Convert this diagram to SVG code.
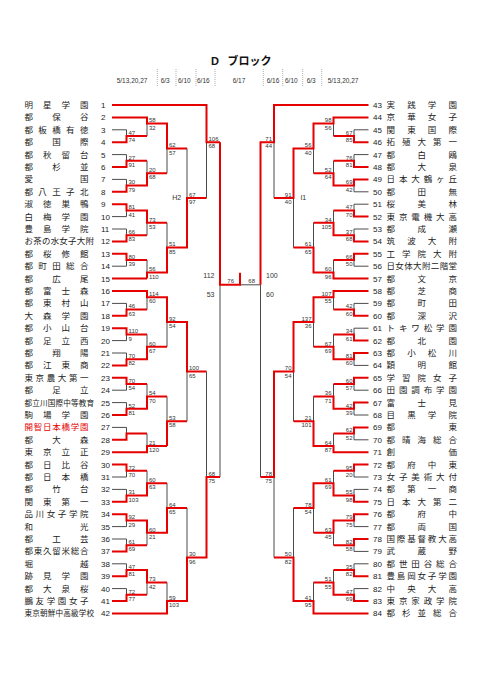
<svg xmlns="http://www.w3.org/2000/svg" width="481" height="680" viewBox="0 0 481 680">
<style>
.g{stroke:#4a4a4a;stroke-width:1;fill:none}
.r{stroke:#e60000;stroke-width:2;fill:none}
.sep{stroke:#9a9a9a;stroke-width:0.8;stroke-dasharray:1,1}
.nm{font-family:"Liberation Sans","Noto Sans CJK JP",sans-serif;font-size:8.5px;fill:#222}
.nm9{font-size:7.6px}
.no{font-family:"Liberation Sans",Arial,sans-serif;font-size:8px;fill:#222}
.sc{font-family:"Liberation Sans",Arial,sans-serif;font-size:6px;fill:#333}
.e{text-anchor:end}
.dt{font-family:"Liberation Sans",Arial,sans-serif;font-size:6.5px;fill:#333}
.lb{font-family:"Liberation Sans",Arial,sans-serif;font-size:7px;fill:#333}
</style>
<rect width="481" height="680" fill="#fff"/>
<g id="header">
<text x="211" y="65" style="font-family:'Liberation Sans','Noto Sans CJK JP',sans-serif;font-size:11px;font-weight:bold;fill:#111">D<tspan x="227.5">ブロック</tspan></text>
<text class="dt" x="116.7" y="83.3">5/13,20,27</text>
<text class="dt" x="160.7" y="83.3">6/3</text>
<text class="dt" x="178" y="83.3">6/10</text>
<text class="dt" x="197" y="83.3">6/16</text>
<text class="dt" x="232.7" y="83.3">6/17</text>
<text class="dt" x="266.7" y="83.3">6/16</text>
<text class="dt" x="285" y="83.3">6/10</text>
<text class="dt" x="306.7" y="83.3">6/3</text>
<text class="dt" x="327.7" y="83.3">5/13,20,27</text>
<path class="sep" d="M157.3 69V87M176 69V87M196 69V87M215 69V87M263.3 69V87M282.7 69V87M302.7 69V87M321.7 69V87"/>
</g>
<g id="connectors">
<path class="g" d="M112 129.8H126.5V136M112 154.6H126.5V160.8M112 179.4H126.5V185.6M112 216.6H126.5V210.4M112 229H126.5V235.2M112 266.2H126.5V260M112 303.4H126.5V309.6M112 340.6H126.5V334.4M112 353H126.5V359.2M112 390.2H126.5V384M112 402.6H126.5V408.8M112 427.4H126.5V433.6M112 477H126.5V470.8M112 489.4H126.5V495.6M112 526.6H126.5V520.4M112 539H126.5V545.2M112 563.8H126.5V570M112 588.6H126.5V594.8
M147 123.6V136M147 160.8V173.2M147 222.8V235.2M147 260V272.4M147 297.2V309.6M147 334.4V346.8M147 384V396.4M147 433.6V446M147 470.8V483.2M147 532.8V545.2M147 582.4V594.8
M167 148.4V173.2M167 222.8V247.6M167 322V346.8M167 396.4V421.2M167 483.2V508M167 582.4V601
M187 148.4V198M187 371.6V421.2M187 508V557.6
M206.5 142.2V198M206.5 371.6V477M220 284.8V477"/>
<path class="g" d="M368.5 129.8H354V136M368.5 154.6H354V160.8M368.5 191.8H354V185.6M368.5 204.2H354V210.4M368.5 229H354V235.2M368.5 266.2H354V260M368.5 303.4H354V309.6M368.5 328.2H354V334.4M368.5 365.4H354V359.2M368.5 390.2H354V384M368.5 415H354V408.8M368.5 439.8H354V433.6M368.5 477H354V470.8M368.5 489.4H354V495.6M368.5 526.6H354V520.4M368.5 551.4H354V545.2M368.5 563.8H354V570M368.5 588.6H354V594.8
M333.5 123.6V136M333.5 160.8V173.2M333.5 210.4V222.8M333.5 260V272.4M333.5 297.2V309.6M333.5 334.4V346.8M333.5 384V396.4M333.5 433.6V446M333.5 470.8V483.2M333.5 532.8V545.2M333.5 570V582.4
M313.5 148.4V173.2M313.5 222.8V247.6M313.5 322V346.8M313.5 396.4V421.2M313.5 508V532.8M313.5 582.4V601
M293.5 198V247.6M293.5 371.6V421.2M293.5 508V557.6
M274 142.2V198M274 477V557.6M260.5 284.8V477M260.5 284.8H240"/>
<path class="r" d="M112 105H206.5V142.2H220M112 117.4H147V123.6H167V148.4H187M112 278.6H147M112 291H147V297.2H167V322H187V371.6H206.5M112 452.2H147V446H167M112 613.4H167V601H187V557.6H206.5V477H220
M112 142.2H126.5V136H147M112 167H126.5V160.8H147M112 191.8H126.5V185.6H147V173.2H167M112 204.2H126.5V210.4H147V222.8H167M112 241.4H126.5V235.2H147M112 253.8H126.5V260H147M147 278.6V272.4H167V247.6H187V198H206.5
M112 315.8H126.5V309.6H147M112 328.2H126.5V334.4H147M112 365.4H126.5V359.2H147V346.8H167M112 377.8H126.5V384H147M112 415H126.5V408.8H147V396.4H167M112 439.8H126.5V433.6H147M167 446V421.2H187
M112 464.6H126.5V470.8H147M112 501.8H126.5V495.6H147V483.2H167M112 514.2H126.5V520.4H147V532.8H167V508H187M112 551.4H126.5V545.2H147M112 576.2H126.5V570H147V582.4H167M112 601H126.5V594.8H147
M220 142.2V284.8H240V272.7"/>
<path class="r" d="M368.5 105H274V142.2H260.5V284.8M368.5 117.4H333.5V123.6H313.5V148.4H293.5V198H274M368.5 278.6H333.5V272.4H313.5V247.6H293.5M368.5 291H333.5V297.2H313.5V322H293.5V371.6H274V477H260.5M368.5 452.2H333.5V446H313.5V421.2H293.5M368.5 613.4H313.5V601H293.5V557.6H274
M368.5 142.2H354V136H333.5M368.5 167H354V160.8H333.5M368.5 179.4H354V185.6H333.5V173.2H313.5M368.5 216.6H354V210.4H333.5M368.5 241.4H354V235.2H333.5V222.8H313.5M368.5 253.8H354V260H333.5
M368.5 315.8H354V309.6H333.5M368.5 340.6H354V334.4H333.5M368.5 353H354V359.2H333.5V346.8H313.5M368.5 377.8H354V384H333.5M368.5 402.6H354V408.8H333.5V396.4H313.5M368.5 427.4H354V433.6H333.5
M368.5 464.6H354V470.8H333.5M368.5 501.8H354V495.6H333.5V483.2H313.5V508H293.5M368.5 514.2H354V520.4H333.5V532.8H313.5M368.5 539H354V545.2H333.5M368.5 576.2H354V570H333.5M368.5 601H354V594.8H333.5V582.4H313.5"/>
</g>
<g id="scores" class="sc">
<text x="128.5" y="134.7">47<tspan x="128.5" y="142.2">74</tspan></text>
<text x="128.5" y="159.5">27<tspan x="128.5" y="167">91</tspan></text>
<text x="128.5" y="184.3">30<tspan x="128.5" y="191.8">79</tspan></text>
<text x="128.5" y="209.1">81<tspan x="128.5" y="216.6">41</tspan></text>
<text x="128.5" y="233.9">66<tspan x="128.5" y="241.4">83</tspan></text>
<text x="128.5" y="258.7">80<tspan x="128.5" y="266.2">39</tspan></text>
<text x="128.5" y="308.3">46<tspan x="128.5" y="315.8">63</tspan></text>
<text x="128.5" y="333.1">110<tspan x="128.5" y="340.6">9</tspan></text>
<text x="128.5" y="357.9">70<tspan x="128.5" y="365.4">82</tspan></text>
<text x="128.5" y="382.7">70<tspan x="128.5" y="390.2">54</tspan></text>
<text x="128.5" y="407.5">52<tspan x="128.5" y="415">81</tspan></text>
<text x="128.5" y="469.5">72<tspan x="128.5" y="477">70</tspan></text>
<text x="128.5" y="494.3">31<tspan x="128.5" y="501.8">103</tspan></text>
<text x="128.5" y="519.1">92<tspan x="128.5" y="526.6">29</tspan></text>
<text x="128.5" y="543.9">61<tspan x="128.5" y="551.4">69</tspan></text>
<text x="128.5" y="568.7">47<tspan x="128.5" y="576.2">81</tspan></text>
<text x="128.5" y="593.5">72<tspan x="128.5" y="601">77</tspan></text>
<text x="149" y="122.3">58<tspan x="149" y="129.8">32</tspan></text>
<text x="149" y="171.9">20<tspan x="149" y="179.4">68</tspan></text>
<text x="149" y="221.5">73<tspan x="149" y="229">53</tspan></text>
<text x="149" y="271.1">56<tspan x="149" y="278.6">110</tspan></text>
<text x="149" y="295.9">114<tspan x="149" y="303.4">60</tspan></text>
<text x="149" y="345.5">60<tspan x="149" y="353">67</tspan></text>
<text x="149" y="395.1">54<tspan x="149" y="402.6">70</tspan></text>
<text x="149" y="444.7">21<tspan x="149" y="452.2">120</tspan></text>
<text x="149" y="481.9">60<tspan x="149" y="489.4">63</tspan></text>
<text x="149" y="531.5">60<tspan x="149" y="539">21</tspan></text>
<text x="149" y="581.1">73<tspan x="149" y="588.6">42</tspan></text>
<text x="169" y="147.1">62<tspan x="169" y="154.6">57</tspan></text>
<text x="169" y="246.3">51<tspan x="169" y="253.8">85</tspan></text>
<text x="169" y="320.7">92<tspan x="169" y="328.2">54</tspan></text>
<text x="169" y="419.9">53<tspan x="169" y="427.4">58</tspan></text>
<text x="169" y="506.7">64<tspan x="169" y="514.2">65</tspan></text>
<text x="169" y="599.7">59<tspan x="169" y="607.2">103</tspan></text>
<text x="189" y="196.7">67<tspan x="189" y="204.2">97</tspan></text>
<text x="189" y="370.3">100<tspan x="189" y="377.8">65</tspan></text>
<text x="189" y="556.3">30<tspan x="189" y="563.8">96</tspan></text>
<text x="208.5" y="140.9">106<tspan x="208.5" y="148.4">68</tspan></text>
<text x="208.5" y="475.7">68<tspan x="208.5" y="483.2">75</tspan></text>
<g class="e">
<text x="352.5" y="134.7">67<tspan x="352.5" y="142.2">85</tspan></text>
<text x="352.5" y="159.5">76<tspan x="352.5" y="167">81</tspan></text>
<text x="352.5" y="184.3">69<tspan x="352.5" y="191.8">42</tspan></text>
<text x="352.5" y="209.1">47<tspan x="352.5" y="216.6">70</tspan></text>
<text x="352.5" y="233.9">37<tspan x="352.5" y="241.4">68</tspan></text>
<text x="352.5" y="258.7">66<tspan x="352.5" y="266.2">50</tspan></text>
<text x="352.5" y="308.3">42<tspan x="352.5" y="315.8">60</tspan></text>
<text x="352.5" y="333.1">34<tspan x="352.5" y="340.6">61</tspan></text>
<text x="352.5" y="357.9">81<tspan x="352.5" y="365.4">60</tspan></text>
<text x="352.5" y="382.7">60<tspan x="352.5" y="390.2">57</tspan></text>
<text x="352.5" y="407.5">42<tspan x="352.5" y="415">39</tspan></text>
<text x="352.5" y="432.3">62<tspan x="352.5" y="439.8">52</tspan></text>
<text x="352.5" y="469.5">95<tspan x="352.5" y="477">20</tspan></text>
<text x="352.5" y="494.3">55<tspan x="352.5" y="501.8">98</tspan></text>
<text x="352.5" y="519.1">79<tspan x="352.5" y="526.6">75</tspan></text>
<text x="352.5" y="543.9">82<tspan x="352.5" y="551.4">58</tspan></text>
<text x="352.5" y="568.7">35<tspan x="352.5" y="576.2">82</tspan></text>
<text x="352.5" y="593.5">47<tspan x="352.5" y="601">69</tspan></text>
<text x="331.5" y="122.3">98<tspan x="331.5" y="129.8">56</tspan></text>
<text x="331.5" y="171.9">52<tspan x="331.5" y="179.4">64</tspan></text>
<text x="331.5" y="221.5">34<tspan x="331.5" y="229">105</tspan></text>
<text x="331.5" y="271.1">60<tspan x="331.5" y="278.6">96</tspan></text>
<text x="331.5" y="295.9">107<tspan x="331.5" y="303.4">55</tspan></text>
<text x="331.5" y="345.5">67<tspan x="331.5" y="353">69</tspan></text>
<text x="331.5" y="395.1">36<tspan x="331.5" y="402.6">71</tspan></text>
<text x="331.5" y="444.7">64<tspan x="331.5" y="452.2">87</tspan></text>
<text x="331.5" y="481.9">61<tspan x="331.5" y="489.4">69</tspan></text>
<text x="331.5" y="531.5">63<tspan x="331.5" y="539">45</tspan></text>
<text x="331.5" y="581.1">51<tspan x="331.5" y="588.6">55</tspan></text>
<text x="311.5" y="147.1">56<tspan x="311.5" y="154.6">40</tspan></text>
<text x="311.5" y="246.3">61<tspan x="311.5" y="253.8">65</tspan></text>
<text x="311.5" y="320.7">137<tspan x="311.5" y="328.2">36</tspan></text>
<text x="311.5" y="419.9">21<tspan x="311.5" y="427.4">101</tspan></text>
<text x="311.5" y="506.7">78<tspan x="311.5" y="514.2">54</tspan></text>
<text x="311.5" y="599.7">41<tspan x="311.5" y="607.2">95</tspan></text>
<text x="291.5" y="196.7">91<tspan x="291.5" y="204.2">40</tspan></text>
<text x="291.5" y="370.3">70<tspan x="291.5" y="377.8">54</tspan></text>
<text x="291.5" y="556.3">50<tspan x="291.5" y="563.8">82</tspan></text>
<text x="272" y="140.9">71<tspan x="272" y="148.4">44</tspan></text>
<text x="272" y="475.7">78<tspan x="272" y="483.2">75</tspan></text>
</g>
<text x="227.3" y="283.3">76</text>
<text x="248.3" y="283.3">68</text>
</g>
<g id="center-labels" class="lb">
<text x="214.5" y="278.2" text-anchor="end">112</text>
<text x="214.5" y="296.5" text-anchor="end">53</text>
<text x="266" y="278.2">100</text>
<text x="266" y="296.5">60</text>
<text x="176.7" y="199.8" text-anchor="middle">H2</text>
<text x="303.3" y="199.8" text-anchor="middle">I1</text>
</g>
<g id="teams-left">
<g id="t1"><text class="nm" x="24.5" y="108" textLength="64">明星学園</text><text class="no" x="101" y="108">1</text></g>
<g id="t2"><text class="nm" x="24.5" y="120.4" textLength="64">都保谷</text><text class="no" x="101" y="120.4">2</text></g>
<g id="t3"><text class="nm" x="24.5" y="132.8" textLength="64">都板橋有徳</text><text class="no" x="101" y="132.8">3</text></g>
<g id="t4"><text class="nm" x="24.5" y="145.2" textLength="64">都国際</text><text class="no" x="101" y="145.2">4</text></g>
<g id="t5"><text class="nm" x="24.5" y="157.6" textLength="64">都秋留台</text><text class="no" x="101" y="157.6">5</text></g>
<g id="t6"><text class="nm" x="24.5" y="170" textLength="64">都杉並</text><text class="no" x="101" y="170">6</text></g>
<g id="t7"><text class="nm" x="24.5" y="182.4" textLength="64">愛国</text><text class="no" x="101" y="182.4">7</text></g>
<g id="t8"><text class="nm" x="24.5" y="194.8" textLength="64">都八王子北</text><text class="no" x="101" y="194.8">8</text></g>
<g id="t9"><text class="nm" x="24.5" y="207.2" textLength="64">淑徳巣鴨</text><text class="no" x="101" y="207.2">9</text></g>
<g id="t10"><text class="nm" x="24.5" y="219.6" textLength="64">白梅学園</text><text class="no" x="101" y="219.6">10</text></g>
<g id="t11"><text class="nm" x="24.5" y="232" textLength="64">豊島学院</text><text class="no" x="101" y="232">11</text></g>
<g id="t12"><text class="nm" x="24.5" y="244.4" textLength="69.5">お茶の水女子大附</text><text class="no" x="101" y="244.4">12</text></g>
<g id="t13"><text class="nm" x="24.5" y="256.8" textLength="64">都桜修館</text><text class="no" x="101" y="256.8">13</text></g>
<g id="t14"><text class="nm" x="24.5" y="269.2" textLength="64">都町田総合</text><text class="no" x="101" y="269.2">14</text></g>
<g id="t15"><text class="nm" x="24.5" y="281.6" textLength="64">都広尾</text><text class="no" x="101" y="281.6">15</text></g>
<g id="t16"><text class="nm" x="24.5" y="294" textLength="64">都富士森</text><text class="no" x="101" y="294">16</text></g>
<g id="t17"><text class="nm" x="24.5" y="306.4" textLength="64">都東村山</text><text class="no" x="101" y="306.4">17</text></g>
<g id="t18"><text class="nm" x="24.5" y="318.8" textLength="64">大森学園</text><text class="no" x="101" y="318.8">18</text></g>
<g id="t19"><text class="nm" x="24.5" y="331.2" textLength="64">都小山台</text><text class="no" x="101" y="331.2">19</text></g>
<g id="t20"><text class="nm" x="24.5" y="343.6" textLength="64">都足立西</text><text class="no" x="101" y="343.6">20</text></g>
<g id="t21"><text class="nm" x="24.5" y="356" textLength="64">都翔陽</text><text class="no" x="101" y="356">21</text></g>
<g id="t22"><text class="nm" x="24.5" y="368.4" textLength="64">都江東商</text><text class="no" x="101" y="368.4">22</text></g>
<g id="t23"><text class="nm" x="24.5" y="380.8" textLength="64">東京農大第一</text><text class="no" x="101" y="380.8">23</text></g>
<g id="t24"><text class="nm" x="24.5" y="393.2" textLength="64">都足立</text><text class="no" x="101" y="393.2">24</text></g>
<g id="t25"><text class="nm nm9" x="24.5" y="405.6" textLength="69.5">都立川国際中等教育</text><text class="no" x="101" y="405.6">25</text></g>
<g id="t26"><text class="nm" x="24.5" y="418" textLength="64">駒場学園</text><text class="no" x="101" y="418">26</text></g>
<g id="t27"><text class="nm" x="24.5" y="430.4" textLength="64" style="fill:#e60000">開智日本橋学園</text><text class="no" x="101" y="430.4">27</text></g>
<g id="t28"><text class="nm" x="24.5" y="442.8" textLength="64">都大森</text><text class="no" x="101" y="442.8">28</text></g>
<g id="t29"><text class="nm" x="24.5" y="455.2" textLength="64">東京立正</text><text class="no" x="101" y="455.2">29</text></g>
<g id="t30"><text class="nm" x="24.5" y="467.6" textLength="64">都日比谷</text><text class="no" x="101" y="467.6">30</text></g>
<g id="t31"><text class="nm" x="24.5" y="480" textLength="64">都日本橋</text><text class="no" x="101" y="480">31</text></g>
<g id="t32"><text class="nm" x="24.5" y="492.4" textLength="64">都竹台</text><text class="no" x="101" y="492.4">32</text></g>
<g id="t33"><text class="nm" x="24.5" y="504.8" textLength="64">関東第一</text><text class="no" x="101" y="504.8">33</text></g>
<g id="t34"><text class="nm" x="24.5" y="517.2" textLength="64">品川女子学院</text><text class="no" x="101" y="517.2">34</text></g>
<g id="t35"><text class="nm" x="24.5" y="529.6" textLength="64">和光</text><text class="no" x="101" y="529.6">35</text></g>
<g id="t36"><text class="nm" x="24.5" y="542" textLength="64">都工芸</text><text class="no" x="101" y="542">36</text></g>
<g id="t37"><text class="nm" x="24.5" y="554.4" textLength="64">都東久留米総合</text><text class="no" x="101" y="554.4">37</text></g>
<g id="t38"><text class="nm" x="24.5" y="566.8" textLength="64">堀越</text><text class="no" x="101" y="566.8">38</text></g>
<g id="t39"><text class="nm" x="24.5" y="579.2" textLength="64">跡見学園</text><text class="no" x="101" y="579.2">39</text></g>
<g id="t40"><text class="nm" x="24.5" y="591.6" textLength="64">都大泉桜</text><text class="no" x="101" y="591.6">40</text></g>
<g id="t41"><text class="nm" x="24.5" y="604" textLength="64">鵬友学園女子</text><text class="no" x="101" y="604">41</text></g>
<g id="t42"><text class="nm nm9" x="24.5" y="616.4" textLength="69.5">東京朝鮮中高級学校</text><text class="no" x="101" y="616.4">42</text></g>
</g>
<g id="teams-right">
<g id="t43"><text class="no" x="373" y="108">43</text><text class="nm" x="386.5" y="108" textLength="70.5">実践学園</text></g>
<g id="t44"><text class="no" x="373" y="120.4">44</text><text class="nm" x="386.5" y="120.4" textLength="70.5">京華女子</text></g>
<g id="t45"><text class="no" x="373" y="132.8">45</text><text class="nm" x="386.5" y="132.8" textLength="70.5">関東国際</text></g>
<g id="t46"><text class="no" x="373" y="145.2">46</text><text class="nm" x="386.5" y="145.2" textLength="70.5">拓殖大第一</text></g>
<g id="t47"><text class="no" x="373" y="157.6">47</text><text class="nm" x="386.5" y="157.6" textLength="70.5">都白鴎</text></g>
<g id="t48"><text class="no" x="373" y="170">48</text><text class="nm" x="386.5" y="170" textLength="70.5">都大泉</text></g>
<g id="t49"><text class="no" x="373" y="182.4">49</text><text class="nm" x="386.5" y="182.4" textLength="70.5">日本大鶴ヶ丘</text></g>
<g id="t50"><text class="no" x="373" y="194.8">50</text><text class="nm" x="386.5" y="194.8" textLength="70.5">都田無</text></g>
<g id="t51"><text class="no" x="373" y="207.2">51</text><text class="nm" x="386.5" y="207.2" textLength="70.5">桜美林</text></g>
<g id="t52"><text class="no" x="373" y="219.6">52</text><text class="nm" x="386.5" y="219.6" textLength="70.5">東京電機大高</text></g>
<g id="t53"><text class="no" x="373" y="232">53</text><text class="nm" x="386.5" y="232" textLength="70.5">都成瀬</text></g>
<g id="t54"><text class="no" x="373" y="244.4">54</text><text class="nm" x="386.5" y="244.4" textLength="70.5">筑波大附</text></g>
<g id="t55"><text class="no" x="373" y="256.8">55</text><text class="nm" x="386.5" y="256.8" textLength="70.5">工学院大附</text></g>
<g id="t56"><text class="no" x="373" y="269.2">56</text><text class="nm" x="386.5" y="269.2" textLength="70.5">日女体大附二階堂</text></g>
<g id="t57"><text class="no" x="373" y="281.6">57</text><text class="nm" x="386.5" y="281.6" textLength="70.5">都文京</text></g>
<g id="t58"><text class="no" x="373" y="294">58</text><text class="nm" x="386.5" y="294" textLength="70.5">都芝商</text></g>
<g id="t59"><text class="no" x="373" y="306.4">59</text><text class="nm" x="386.5" y="306.4" textLength="70.5">都町田</text></g>
<g id="t60"><text class="no" x="373" y="318.8">60</text><text class="nm" x="386.5" y="318.8" textLength="70.5">都深沢</text></g>
<g id="t61"><text class="no" x="373" y="331.2">61</text><text class="nm" x="386.5" y="331.2" textLength="70.5">トキワ松学園</text></g>
<g id="t62"><text class="no" x="373" y="343.6">62</text><text class="nm" x="386.5" y="343.6" textLength="70.5">都北園</text></g>
<g id="t63"><text class="no" x="373" y="356">63</text><text class="nm" x="386.5" y="356" textLength="70.5">都小松川</text></g>
<g id="t64"><text class="no" x="373" y="368.4">64</text><text class="nm" x="386.5" y="368.4" textLength="70.5">穎明館</text></g>
<g id="t65"><text class="no" x="373" y="380.8">65</text><text class="nm" x="386.5" y="380.8" textLength="70.5">学習院女子</text></g>
<g id="t66"><text class="no" x="373" y="393.2">66</text><text class="nm" x="386.5" y="393.2" textLength="70.5">田園調布学園</text></g>
<g id="t67"><text class="no" x="373" y="405.6">67</text><text class="nm" x="386.5" y="405.6" textLength="70.5">富士見</text></g>
<g id="t68"><text class="no" x="373" y="418">68</text><text class="nm" x="386.5" y="418" textLength="70.5">目黒学院</text></g>
<g id="t69"><text class="no" x="373" y="430.4">69</text><text class="nm" x="386.5" y="430.4" textLength="70.5">都東</text></g>
<g id="t70"><text class="no" x="373" y="442.8">70</text><text class="nm" x="386.5" y="442.8" textLength="70.5">都晴海総合</text></g>
<g id="t71"><text class="no" x="373" y="455.2">71</text><text class="nm" x="386.5" y="455.2" textLength="70.5">創価</text></g>
<g id="t72"><text class="no" x="373" y="467.6">72</text><text class="nm" x="386.5" y="467.6" textLength="70.5">都府中東</text></g>
<g id="t73"><text class="no" x="373" y="480">73</text><text class="nm" x="386.5" y="480" textLength="70.5">女子美術大付</text></g>
<g id="t74"><text class="no" x="373" y="492.4">74</text><text class="nm" x="386.5" y="492.4" textLength="70.5">都第一商</text></g>
<g id="t75"><text class="no" x="373" y="504.8">75</text><text class="nm" x="386.5" y="504.8" textLength="70.5">日本大第二</text></g>
<g id="t76"><text class="no" x="373" y="517.2">76</text><text class="nm" x="386.5" y="517.2" textLength="70.5">都府中</text></g>
<g id="t77"><text class="no" x="373" y="529.6">77</text><text class="nm" x="386.5" y="529.6" textLength="70.5">都両国</text></g>
<g id="t78"><text class="no" x="373" y="542">78</text><text class="nm" x="386.5" y="542" textLength="70.5">国際基督教大高</text></g>
<g id="t79"><text class="no" x="373" y="554.4">79</text><text class="nm" x="386.5" y="554.4" textLength="70.5">武蔵野</text></g>
<g id="t80"><text class="no" x="373" y="566.8">80</text><text class="nm" x="386.5" y="566.8" textLength="70.5">都世田谷総合</text></g>
<g id="t81"><text class="no" x="373" y="579.2">81</text><text class="nm" x="386.5" y="579.2" textLength="70.5">豊島岡女子学園</text></g>
<g id="t82"><text class="no" x="373" y="591.6">82</text><text class="nm" x="386.5" y="591.6" textLength="70.5">中央大高</text></g>
<g id="t83"><text class="no" x="373" y="604">83</text><text class="nm" x="386.5" y="604" textLength="70.5">東京家政学院</text></g>
<g id="t84"><text class="no" x="373" y="616.4">84</text><text class="nm" x="386.5" y="616.4" textLength="70.5">都杉並総合</text></g>
</g>
</svg>
